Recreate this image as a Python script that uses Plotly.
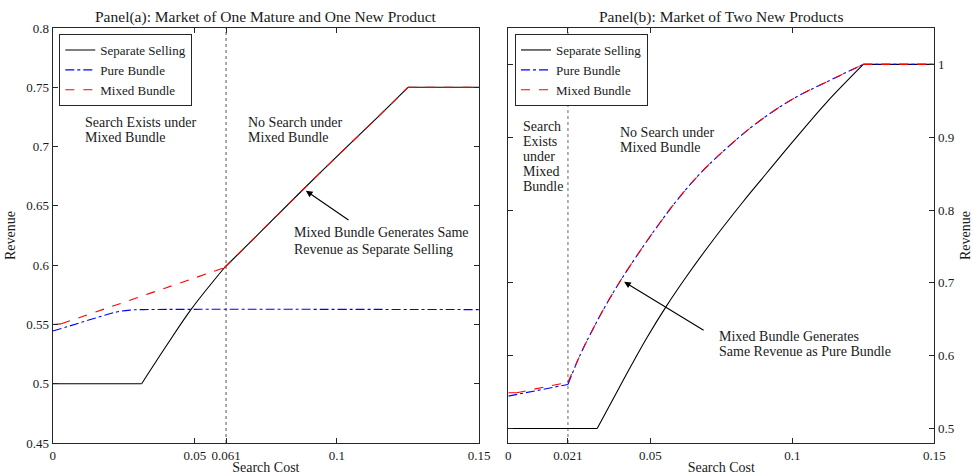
import plotly.graph_objects as go

# ---------------- Data ----------------
# Panel (a): Market of One Mature and One New Product
a_sep_x = [0, 0.0313, 0.040, 0.0487, 0.0604, 0.0741, 0.0882, 0.1034, 0.1152, 0.125, 0.15]
a_sep_y = [0.5, 0.5, 0.532, 0.5627, 0.5978, 0.6303, 0.6640, 0.6995, 0.7268, 0.75, 0.75]
a_pure_x = [0, 0.005, 0.0108, 0.0166, 0.0225, 0.0272, 0.032, 0.15]
a_pure_y = [0.5445, 0.548, 0.5523, 0.5565, 0.5605, 0.5621, 0.5625, 0.5625]
a_mix_x = [0, 0.003, 0.02, 0.04, 0.0604, 0.0741, 0.0882, 0.1034, 0.1152, 0.125, 0.15]
a_mix_y = [0.55, 0.5505, 0.5645, 0.581, 0.5978, 0.6303, 0.6640, 0.6995, 0.7268, 0.75, 0.75]
a_threshold = 0.061

# Panel (b): Market of Two New Products
b_sep_x = [0, 0.0313, 0.037, 0.0428, 0.0487, 0.0555, 0.0628, 0.0710, 0.0828, 0.0887, 0.1004, 0.1121, 0.125, 0.15]
b_sep_y = [0.5, 0.5, 0.541, 0.583, 0.624, 0.667, 0.709, 0.753, 0.812, 0.840, 0.895, 0.948, 1.0, 1.0]
b_pure_x = [0, 0.021, 0.0253, 0.030, 0.0346, 0.040, 0.0475, 0.0534, 0.0587, 0.0675, 0.0792, 0.0887, 0.1004, 0.1121, 0.125, 0.15]
b_pure_y = [0.5444, 0.5604, 0.601, 0.638, 0.671, 0.706, 0.750, 0.7825, 0.810, 0.850, 0.893, 0.923, 0.953, 0.976, 1.0, 1.0]
b_mix_x = [0, 0.003, 0.021, 0.0253, 0.030, 0.0346, 0.040, 0.0475, 0.0534, 0.0587, 0.0675, 0.0792, 0.0887, 0.1004, 0.1121, 0.125, 0.15]
b_mix_y = [0.549, 0.549, 0.5635, 0.601, 0.638, 0.671, 0.706, 0.750, 0.7825, 0.810, 0.850, 0.893, 0.923, 0.953, 0.976, 1.0, 1.0]
b_threshold = 0.021

# indices of the points where a curve has a corner (curves are smooth between them)
a_sep_kinks = [1, 4, 9]
a_pure_kinks = []
a_mix_kinks = [1, 4, 9]
b_sep_kinks = [1, 12]
b_pure_kinks = [1, 14]
b_mix_kinks = [1, 2, 15]

a_xticks = [0, 0.05, 0.061, 0.1, 0.15]
a_xticklabels = ["0", "0.05", "0.061", "0.1", "0.15"]
a_yticks = [0.45, 0.5, 0.55, 0.6, 0.65, 0.7, 0.75, 0.8]
a_yticklabels = ["0.45", "0.5", "0.55", "0.6", "0.65", "0.7", "0.75", "0.8"]
b_xticks = [0, 0.021, 0.05, 0.1, 0.15]
b_xticklabels = ["0", "0.021", "0.05", "0.1", "0.15"]
b_yticks = [0.5, 0.6, 0.7, 0.8, 0.9, 1.0]
b_yticklabels = ["0.5", "0.6", "0.7", "0.8", "0.9", "1"]

series_names = ["Separate Selling", "Pure Bundle", "Mixed Bundle"]

# ---------------- Styling ----------------
FONT = "Liberation Serif"
TXT = "#1a1a1a"
AX = "#262626"
W, H = 973, 475

def px_x(p):
    return p / W

def px_y(p):
    return 1 - p / H

fig = go.Figure()

styles = [dict(color="#000000", width=1.1, dash="solid"),
          dict(color="#0000ff", width=1.1, dash="dashdot"),
          dict(color="#ff0000", width=1.1, dash="dash")]


def add_series(xs, ys, kinks, name, st, xa, ya, leg, group):
    cuts = [0] + list(kinks) + [len(xs) - 1]
    first = True
    for i0, i1 in zip(cuts[:-1], cuts[1:]):
        fig.add_trace(go.Scatter(x=xs[i0:i1 + 1], y=ys[i0:i1 + 1], name=name, mode="lines",
                                 line=dict(shape="spline", smoothing=1, **st),
                                 xaxis=xa, yaxis=ya, legend=leg, legendgroup=group,
                                 showlegend=first))
        first = False


panel_a = [(a_sep_x, a_sep_y, a_sep_kinks), (a_pure_x, a_pure_y, a_pure_kinks),
           (a_mix_x, a_mix_y, a_mix_kinks)]
panel_b = [(b_sep_x, b_sep_y, b_sep_kinks), (b_pure_x, b_pure_y, b_pure_kinks),
           (b_mix_x, b_mix_y, b_mix_kinks)]

for (xs, ys, k), name, st in zip(panel_a, series_names, styles):
    add_series(xs, ys, k, name, st, "x", "y", "legend", "a_" + name)
for (xs, ys, k), name, st in zip(panel_b, series_names, styles):
    add_series(xs, ys, k, name, st, "x2", "y2", "legend2", "b_" + name)

# threshold lines
fig.add_shape(type="line", xref="x", yref="y domain", x0=a_threshold, x1=a_threshold,
              y0=0, y1=1, line=dict(color="#555555", width=1, dash="dot"), layer="below")
fig.add_shape(type="line", xref="x2", yref="y2 domain", x0=b_threshold, x1=b_threshold,
              y0=0, y1=1, line=dict(color="#999999", width=1.5, dash="dot"), layer="below")

axis_common = dict(showline=True, linecolor=AX, linewidth=1, mirror="ticks",
                   ticks="inside", ticklen=5, tickcolor=AX, tickwidth=1,
                   showgrid=False, zeroline=False,
                   tickfont=dict(family=FONT, size=13, color=TXT))

ydom = [px_y(443), px_y(28)]

fig.update_layout(
    width=W, height=H,
    margin=dict(l=0, r=0, t=0, b=0),
    template="none",
    paper_bgcolor="white", plot_bgcolor="white",
    font=dict(family=FONT, color=TXT),
    xaxis=dict(domain=[px_x(52.7), px_x(479)], range=[0, 0.15], anchor="y",
               tickvals=a_xticks, ticktext=a_xticklabels,
               title=dict(text="Search Cost", font=dict(family=FONT, size=14, color=TXT), standoff=2),
               **axis_common),
    yaxis=dict(domain=ydom, range=[0.45, 0.8], anchor="x",
               tickvals=a_yticks, ticktext=a_yticklabels,
               title=dict(text="Revenue", font=dict(family=FONT, size=14, color=TXT), standoff=7),
               **axis_common),
    xaxis2=dict(domain=[px_x(508.3), px_x(934.3)], range=[0, 0.15], anchor="y2",
                tickvals=b_xticks, ticktext=b_xticklabels,
                title=dict(text="Search Cost", font=dict(family=FONT, size=14, color=TXT), standoff=2),
                **axis_common),
    yaxis2=dict(domain=ydom, range=[0.48, 1.05], anchor="x2", side="right",
                tickvals=b_yticks, ticktext=b_yticklabels,
                title=dict(text="Revenue", font=dict(family=FONT, size=14, color=TXT), standoff=8),
                **axis_common),
    legend=dict(x=px_x(59.3), y=px_y(34), xanchor="left", yanchor="top",
                bgcolor="white", bordercolor=AX, borderwidth=1,
                font=dict(family=FONT, size=13, color=TXT), itemwidth=30,
                tracegroupgap=0),
    legend2=dict(x=px_x(515), y=px_y(34), xanchor="left", yanchor="top",
                 bgcolor="white", bordercolor=AX, borderwidth=1,
                 font=dict(family=FONT, size=13, color=TXT), itemwidth=30,
                 tracegroupgap=0),
    showlegend=True,
)

annotations = []
# panel titles
annotations.append(dict(text="Panel(a): Market of One Mature and One New Product", xref="paper", yref="paper",
                        x=px_x(266), y=px_y(17), xanchor="center", yanchor="middle", showarrow=False,
                        font=dict(family=FONT, size=15.5, color=TXT)))
annotations.append(dict(text="Panel(b): Market of Two New Products", xref="paper", yref="paper",
                        x=px_x(721), y=px_y(17), xanchor="center", yanchor="middle", showarrow=False,
                        font=dict(family=FONT, size=15.5, color=TXT)))

def lines(texts, x, ys, xr, yr):
    for t, yy in zip(texts, ys):
        annotations.append(dict(text=t, xref=xr, yref=yr, x=x, y=yy, xanchor="left",
                                yanchor="middle", showarrow=False,
                                font=dict(family=FONT, size=14, color=TXT)))

lines(["Search Exists under", "Mixed Bundle"], 0.0106, [0.7204, 0.708], "x", "y")
lines(["No Search under", "Mixed Bundle"], 0.0679, [0.7204, 0.708], "x", "y")
lines(["Mixed Bundle Generates Same", "Revenue as Separate Selling"], 0.0841, [0.6273, 0.6136], "x", "y")

lines(["Search", "Exists", "under", "Mixed", "Bundle"], 0.0045,
      [0.9153, 0.8947, 0.8731, 0.8525, 0.8319], "x2", "y2")
lines(["No Search under", "Mixed Bundle"], 0.0387, [0.906, 0.8854], "x2", "y2")
lines(["Mixed Bundle Generates", "Same Revenue as Pure Bundle"], 0.0734, [0.6268, 0.6062], "x2", "y2")

# arrows
annotations.append(dict(x=0.0891, y=0.6627, ax=0.1046, ay=0.6372, xref="x", yref="y",
                        axref="x", ayref="y", text="", showarrow=True, arrowhead=2,
                        arrowsize=1.2, arrowwidth=1.1, arrowcolor="#000000"))
annotations.append(dict(x=0.0408, y=0.7014, ax=0.0693, ay=0.6337, xref="x2", yref="y2",
                        axref="x2", ayref="y2", text="", showarrow=True, arrowhead=2,
                        arrowsize=1.2, arrowwidth=1.1, arrowcolor="#000000"))

fig.update_layout(annotations=annotations)

fig.write_html("out.html")
